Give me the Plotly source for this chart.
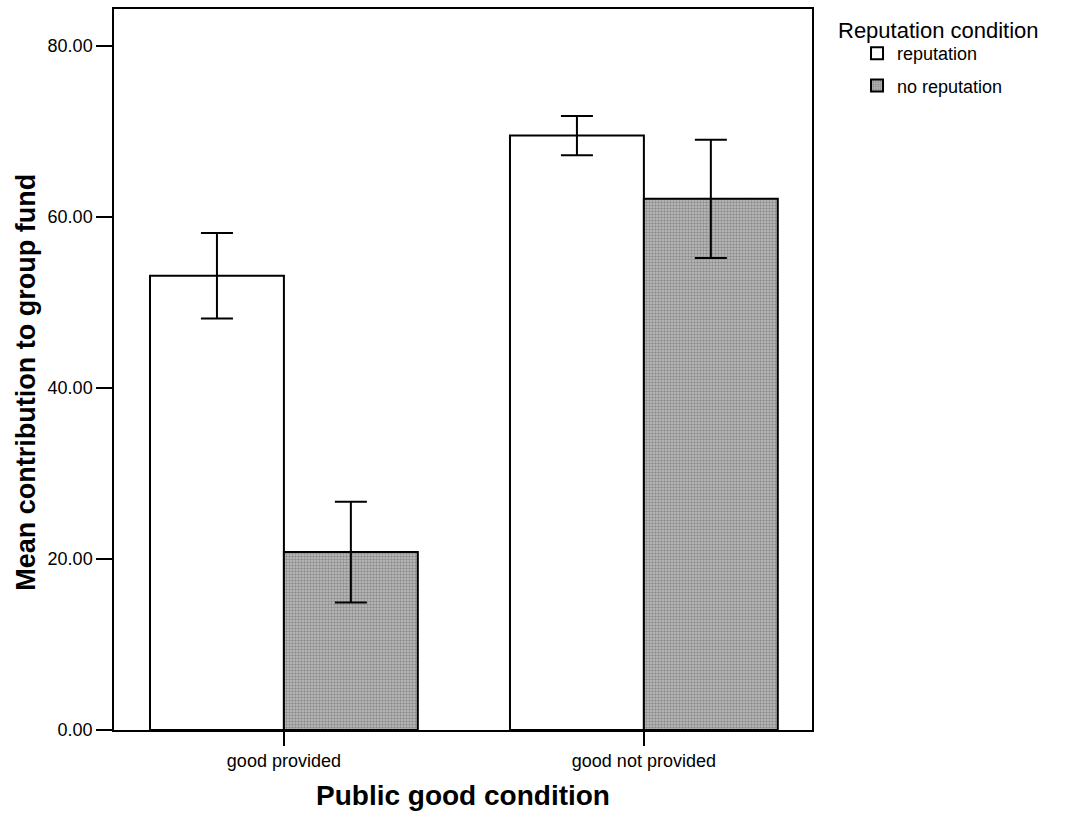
import plotly.graph_objects as go

categories = ["good provided", "good not provided"]
series_names = ["reputation", "no reputation"]
reputation_means = [53.1, 69.5]
reputation_err = [5.0, 2.3]
no_reputation_means = [20.8, 62.1]
no_reputation_err = [5.9, 6.9]
y_ticks = [0, 20, 40, 60, 80]
y_tick_labels = ["0.00", "20.00", "40.00", "60.00", "80.00"]
legend_title = "Reputation condition"
x_title = "Public good condition"
y_title = "Mean contribution to group fund"

FONT = "Liberation Sans, Arial, Helvetica, sans-serif"

fig = go.Figure()
fig.add_trace(go.Bar(
    name=series_names[0], x=categories, y=reputation_means, legendgroup="a",
    marker=dict(color="white", line=dict(color="black", width=2)),
    error_y=dict(type="data", array=reputation_err, color="black", thickness=2, width=16),
))
fig.add_trace(go.Bar(
    name=series_names[1], x=categories, y=no_reputation_means, legendgroup="b",
    marker=dict(color="#9c9c9c", line=dict(color="black", width=2),
                pattern=dict(shape=".", size=3, solidity=0.5, fgcolor="#585858", bgcolor="#c0c0c0")),
    error_y=dict(type="data", array=no_reputation_err, color="black", thickness=2, width=16),
))

fig.update_layout(
    width=1065, height=813,
    margin=dict(l=114, r=253, t=7, b=83),
    paper_bgcolor="white", plot_bgcolor="white",
    barmode="group", bargap=0.256, bargroupgap=0,
    font=dict(family=FONT, color="black", size=15),
    legend=dict(
        x=1.0645, y=0.964, xanchor="left", yanchor="top",
        font=dict(size=18, family=FONT), tracegroupgap=6,
        bgcolor="rgba(0,0,0,0)",
    ),
    showlegend=True,
    annotations=[
        dict(text=legend_title, xref="paper", yref="paper", x=1.0344, y=0.9695,
             xanchor="left", yanchor="middle", showarrow=False,
             font=dict(size=22, family=FONT, color="black")),
        dict(text="<b>" + y_title + "</b>", xref="paper", yref="paper",
             x=-0.1261, y=0.483, xanchor="center", yanchor="middle", textangle=-90,
             showarrow=False, font=dict(size=27, family=FONT, color="black")),
    ],
)
fig.update_xaxes(
    range=[-0.472, 1.467], showline=True, linecolor="black", linewidth=1.5, mirror=True,
    ticks="outside", ticklen=14, tickwidth=2, tickcolor="black",
    tickfont=dict(size=18), showgrid=False,
    title=dict(text="<b>" + x_title + "</b>", font=dict(size=28), standoff=15),
)
fig.update_yaxes(
    range=[0, 84.3], showline=True, linecolor="black", linewidth=1.5, mirror=True,
    ticks="outside", ticklen=16, tickwidth=2, tickcolor="black",
    tickvals=y_ticks, ticktext=y_tick_labels, tickfont=dict(size=18),
    showgrid=False, zeroline=False,
)

fig.write_html("out.html")
